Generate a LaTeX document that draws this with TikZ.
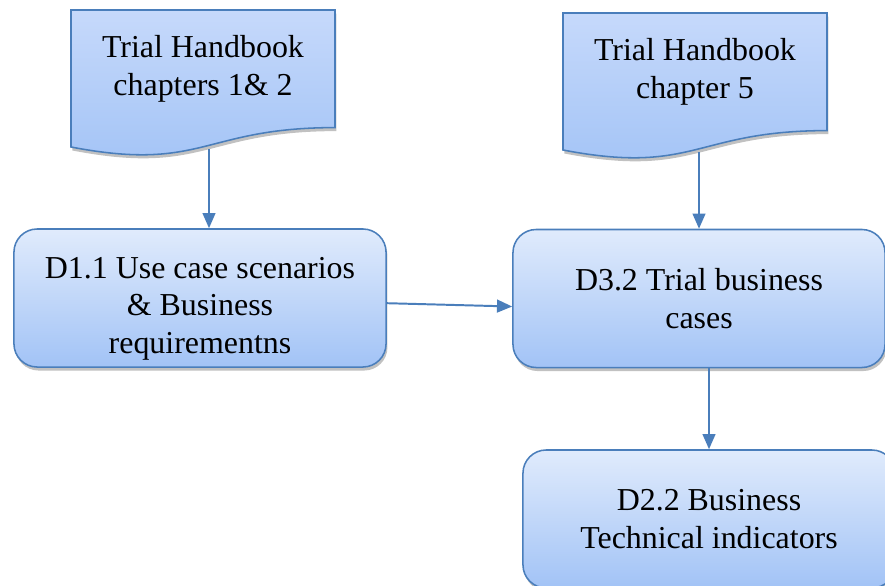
\documentclass[tikz,border=0pt]{standalone}
\usepackage{fontspec}
\setmainfont{Liberation Serif}
\usetikzlibrary{arrows.meta,shadows}
\definecolor{cline}{RGB}{74,126,187}
\definecolor{cdtop}{RGB}{198,217,251}
\definecolor{cbtop}{RGB}{224,235,252}
\definecolor{cbot}{RGB}{162,195,246}

\begin{document}
\begin{tikzpicture}[x=0.025cm,y=-0.025cm,>={Triangle[length=0.38cm,width=0.32cm]},
   txt/.style={font=\fontsize{22.7}{26.7}\selectfont,align=center,text=black},
   doc/.style={draw=cline,line width=1.1pt,top color=cdtop,bottom color=cbot,
     drop shadow={shadow xshift=1pt,shadow yshift=-2.5pt,opacity=0.35,fill=black!70}},
   box/.style={txt,draw=cline,line width=1.1pt,rounded corners=0.58cm,top color=cbtop,bottom color=cbot,
     minimum width=9.3cm,minimum height=3.45cm,
     drop shadow={shadow xshift=1pt,shadow yshift=-2.5pt,opacity=0.35,fill=black!70}},
   link/.style={->,draw=cline,line width=1.4pt}]
  \useasboundingbox (0,0) rectangle (885,585);
  % handbook documents (wavy bottom)
  \path[doc] (71,10) -- (335,10) -- (335,127.6) .. controls (203,127.6) and (203,172.4) .. (71,147) -- cycle;
  \path[doc] (563,13) -- (827,13) -- (827,130.6) .. controls (695,130.6) and (695,175.4) .. (563,150) -- cycle;
  \node[txt] (hb1) at (203,69) {Trial Handbook\\chapters 1\& 2};
  \node[txt] (hb2) at (695,72) {Trial Handbook\\chapter 5};
  \coordinate (hb1b) at (209,149);
  \coordinate (hb2b) at (699,152);
  % deliverables
  \node[box] (d11) at (200,298) {\rule{0pt}{30pt}D1.1 Use case scenarios\\\& Business\\requirementns};
  \node[box] (d32) at (699,298.5) {D3.2 Trial business\\cases};
  \node[box] (d22) at (709,519) {D2.2 Business\\Technical indicators};
  % flow
  \draw[link] (hb1b) -- (hb1b |- d11.north);
  \draw[link] (hb2b) -- (d32.north);
  \draw[link] ([yshift=-0.13cm]d11.east) -- ([yshift=-0.2cm]d32.west);
  \draw[link] (d22 |- d32.south) -- (d22.north);
\end{tikzpicture}
\end{document}
